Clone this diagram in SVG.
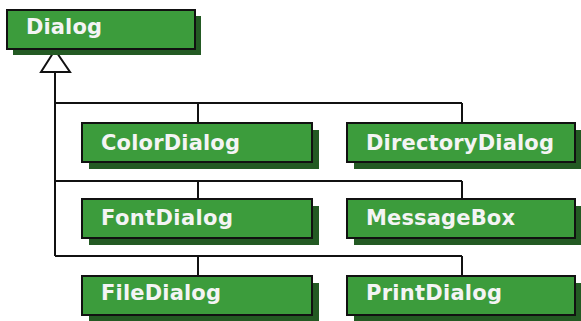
<svg xmlns="http://www.w3.org/2000/svg" width="581" height="321" viewBox="0 0 581 321">
<style>
.sh{fill:#235a23;}
.bx{fill:#3c9c3c;stroke:#111;stroke-width:2;}
.t{font-family:"DejaVu Sans",Verdana,sans-serif;font-weight:bold;font-size:21px;fill:#f4f4f4;}
.c{fill:none;stroke:#111;stroke-width:2;}
</style>
<rect width="581" height="321" fill="#fff"/>
<g id="connectors">
<path class="c" d="M55,72 V256 M55,103 H462 M198,103 V123 M462,103 V123 M55,181 H462 M198,181 V199 M462,181 V199 M55,256 H462 M198,256 V276 M462,256 V276"/>
<polygon points="55,50 41,72 70,72" fill="#fff" stroke="#111" stroke-width="2"/>
</g>
<g id="Dialog">
<rect class="sh" x="13" y="16" width="188" height="39"/>
<rect class="bx" x="7" y="10" width="188" height="39"/>
<text class="t" x="26" y="34" textLength="76">Dialog</text>
</g>
<g id="ColorDialog">
<rect class="sh" x="89" y="130" width="230" height="39"/>
<rect class="bx" x="82" y="123" width="230" height="39"/>
<text class="t" x="101" y="150" textLength="139">ColorDialog</text>
</g>
<g id="DirectoryDialog">
<rect class="sh" x="354" y="130" width="228" height="39"/>
<rect class="bx" x="347" y="123" width="228" height="39"/>
<text class="t" x="366" y="150" textLength="188">DirectoryDialog</text>
</g>
<g id="FontDialog">
<rect class="sh" x="89" y="206" width="230" height="39"/>
<rect class="bx" x="82" y="199" width="230" height="39"/>
<text class="t" x="101" y="225" textLength="132">FontDialog</text>
</g>
<g id="MessageBox">
<rect class="sh" x="354" y="206" width="228" height="39"/>
<rect class="bx" x="347" y="199" width="228" height="39"/>
<text class="t" x="366" y="225" textLength="149">MessageBox</text>
</g>
<g id="FileDialog">
<rect class="sh" x="89" y="283" width="230" height="39"/>
<rect class="bx" x="82" y="276" width="230" height="39"/>
<text class="t" x="101" y="300" textLength="120">FileDialog</text>
</g>
<g id="PrintDialog">
<rect class="sh" x="354" y="283" width="228" height="39"/>
<rect class="bx" x="347" y="276" width="228" height="39"/>
<text class="t" x="366" y="300" textLength="136">PrintDialog</text>
</g>
</svg>
